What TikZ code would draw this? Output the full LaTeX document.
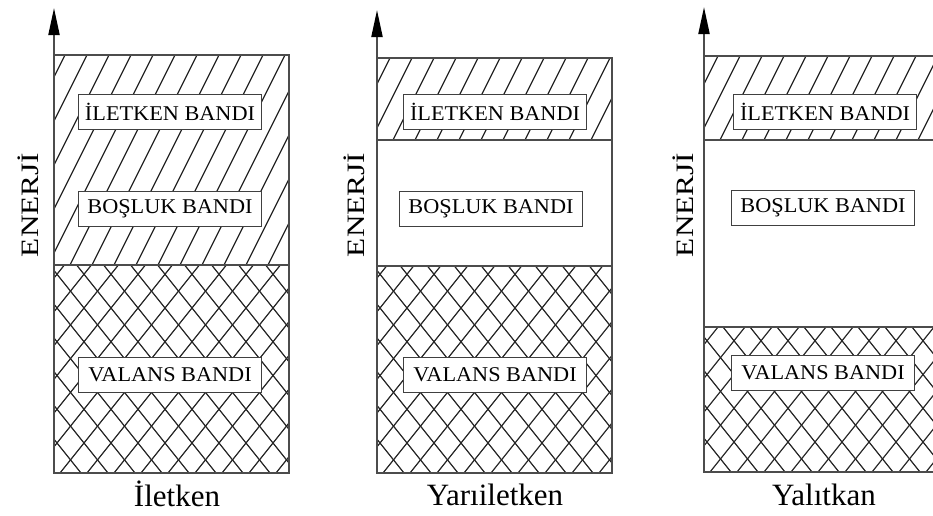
\documentclass[tikz,border=0pt]{standalone}
\usepackage{fontspec}
\setmainfont{Liberation Serif}
\usepackage{graphicx}
\usetikzlibrary{arrows.meta}

% single hatching: x0, y0 (top), x1, y1 (bottom)
\newcommand{\condhatch}[4]{%
  \begin{scope}
    \clip (#1,#2) rectangle (#3,#4);
    \foreach \i in {0,...,20}
      \draw[hatch] (#1-160+22*\i,#4) -- ++(150,-300);
  \end{scope}}
% cross hatching: x0, y0 (top), x1, y1 (bottom)
\newcommand{\valhatch}[4]{%
  \begin{scope}
    \clip (#1,#2) rectangle (#3,#4);
    \foreach \i in {0,...,25} {
      \draw[hatch] (#1-210+27*\i,#4) -- ++(200,-250);
      \draw[hatch] (#1+27*\i,#4) -- ++(-200,-250);
    }
  \end{scope}}
\newcommand{\wide}[1]{\scalebox{1.06}[1]{#1}}

\begin{document}
\begin{tikzpicture}[
    x=1pt, y=-1pt,
    band/.style={draw=black!70, line width=2pt},
    hatch/.style={draw=black!85, line width=1.2pt},
    bandlabel/.style={
        rectangle,
        draw=black!75,
        line width=1.5pt,
        fill=white,
        minimum width=183pt,
        minimum height=35pt,
        inner sep=0pt,
        font=\fontsize{21}{21}\selectfont
    },
    axislabel/.style={rotate=90, font=\fontsize{25}{25}\selectfont},
    caption/.style={anchor=base, font=\fontsize{31}{31}\selectfont},
    axis/.style={draw=black!70, line width=2pt,
        -{Triangle[length=27pt,width=11pt,fill=black,color=black]}}
]

\useasboundingbox (0,0) rectangle (933,515);

% Iletken
\condhatch{54}{55}{289}{265}
\valhatch{54}{265}{289}{473}
\draw[band] (54,55) rectangle (289,473);
\draw[band] (54,265) -- (289,265);
\coordinate (base1) at (54,473);
\coordinate (top1) at (54,8);
\draw[axis] (base1) -- (top1);

\node[bandlabel] (cond1) at (170,112) {\wide{İLETKEN BANDI}};
\node[bandlabel] (gap1) at (170,209) {\wide{BOŞLUK BANDI}};
\node[bandlabel] (val1) at (170,375) {\wide{VALANS BANDI}};
\node[axislabel] (energy1) at (28,205) {\scalebox{1.25}[1]{ENERJİ}};
\node[caption] (cap1) at (177,506) {İletken};

% Yariiletken
\condhatch{377}{58}{612}{140}
\valhatch{377}{266}{612}{473}
\draw[band] (377,58) rectangle (612,473);
\draw[band] (377,140) -- (612,140);
\draw[band] (377,266) -- (612,266);
\coordinate (base2) at (377,473);
\coordinate (top2) at (377,10);
\draw[axis] (base2) -- (top2);

\node[bandlabel] (cond2) at (495,112) {\wide{İLETKEN BANDI}};
\node[bandlabel] (gap2) at (491,209) {\wide{BOŞLUK BANDI}};
\node[bandlabel] (val2) at (495,375) {\wide{VALANS BANDI}};
\node[axislabel] (energy2) at (354,205) {\scalebox{1.25}[1]{ENERJİ}};
\node[caption] (cap2) at (495,505) {Yarıiletken};

% Yalitkan
\condhatch{704}{56}{940}{140}
\valhatch{704}{327}{940}{472}
\draw[band] (704,56) rectangle (940,472);
\draw[band] (704,140) -- (940,140);
\draw[band] (704,327) -- (940,327);
\coordinate (base3) at (704,472);
\coordinate (top3) at (704,7);
\draw[axis] (base3) -- (top3);

\node[bandlabel] (cond3) at (825,112) {\wide{İLETKEN BANDI}};
\node[bandlabel] (gap3) at (823,208) {\wide{BOŞLUK BANDI}};
\node[bandlabel] (val3) at (823,373) {\wide{VALANS BANDI}};
\node[axislabel] (energy3) at (683,205) {\scalebox{1.25}[1]{ENERJİ}};
\node[caption] (cap3) at (824,505) {Yalıtkan};

\end{tikzpicture}
\end{document}
